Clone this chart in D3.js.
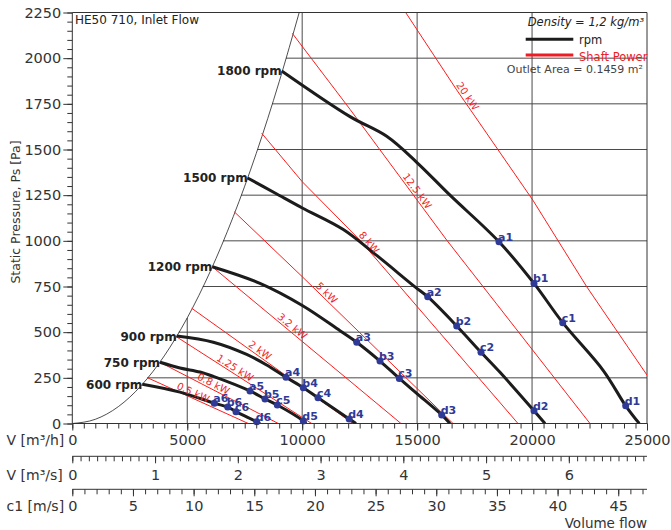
<!DOCTYPE html>
<html><head><meta charset="utf-8">
<script src="https://cdn.jsdelivr.net/npm/d3@7"></script>
<style>body{margin:0;background:#fff} text{font-family:"DejaVu Sans",sans-serif}</style>
</head><body><svg id="c" width="671" height="530"></svg>
<script>
// ---------------- DATA ----------------
const rpmLabels = ["1800 rpm","1500 rpm","1200 rpm","900 rpm","750 rpm","600 rpm"];
const curve1800 = [[9109,1930],[12081,1680],[13677,1572],[14982,1430],[16430,1250],[18561,995],[20084,767],[21333,552],[23099,290],[24073,97],[24665,0]];
const curve1500 = [[7628,1344],[8818,1262],[10005,1180],[11789,1062],[13242,920],[14908,748],[15460,694],[16722,534],[17779,390],[18606,280],[20084,70],[20563,0]];
const curve1200 = [[6090,858],[8165,767],[10005,646],[11645,508],[12372,445],[13385,342],[14225,247],[14982,165],[16069,47],[16430,0]];
const curve900  = [[4541,479],[6134,445],[7586,378],[8457,320],[9296,253],[10049,196],[10688,141],[12045,25],[12341,0]];
const curve750  = [[3815,335],[4685,304],[5555,282],[6134,258],[7730,178],[8383,134],[8918,101],[10049,14],[10166,0]];
const curve600  = [[3045,215],[4685,172],[6177,111],[6760,90],[7121,65],[8022,10],[8165,0]];

const opLabels   = ["a1","b1","c1","d1","a2","b2","c2","d2","a3","b3","c3","d3","a4","b4","c4","d4","a5","b5","c5","d5","a6","b6","c6","d6"];
const opFlow     = [18561,20084,21333,24073,15460,16722,17779,20084,12372,13385,14225,16069,9296,10049,10688,12045,7730,8383,8918,10049,6177,6760,7121,8022];
const opPressure = [995,767,552,97,694,534,390,70,445,342,247,47,253,196,141,25,178,134,101,14,111,90,65,10];

const powerLabels = ["0.5 kW","0.8 kW","1.25 kW","2 kW","3.2 kW","5 kW","8 kW","12.5 kW","20 kW"];
const power05  = [[3263,251],[7656,0]];
const power08  = [[3815,335],[8961,0]];
const power125 = [[4541,474],[10414,0]];
const power2   = [[5194,631],[12211,0]];
const power32  = [[6090,858],[14299,0]];
const power5   = [[7047,1159],[10000,804],[16561,0]];
const power8   = [[8239,1589],[10000,1324],[12509,1004],[19389,0]];
const power125k= [[9570,2136],[12081,1720],[16287,1004],[22521,0]];
const power20  = [[14503,2250],[16722,1826],[20033,1223],[22377,749],[25000,265]];
const powerLabelFlow = [5160,6030,6950,8030,9420,10900,12730,14813,17000];

const boundaryFlow     = [0,1000,2000,3000,4000,5000,6000,7000,8000,9000,9870];
const boundaryPressure = [0,23,92,208,370,578,832,1132,1478,1871,2250];

const flowTicksMajor = [0,5000,10000,15000,20000,25000];
const pressureTicksMajor = [0,250,500,750,1000,1250,1500,1750,2000,2250];
const flowMax = 25000, pressureMax = 2250;
const inletAreaM2 = 0.1466;

// ---------------- CHART ----------------
const svg = d3.select("#c");
const X0=72.3, X1=647, YT=12.5, YB=423.5;
const x = d3.scaleLinear().domain([0,flowMax]).range([X0,X1]);
const y = d3.scaleLinear().domain([0,pressureMax]).range([YB,YT]);

function boundaryFlowAt(P){
  for(let i=0;i<boundaryPressure.length-1;i++){
    const p0=boundaryPressure[i],p1=boundaryPressure[i+1];
    if(P>=p0&&P<=p1){return boundaryFlow[i]+(P-p0)/(p1-p0)*(boundaryFlow[i+1]-boundaryFlow[i]);}
  }
  return boundaryFlow[boundaryFlow.length-1];
}
function boundaryPAt(V){
  if(V>=boundaryFlow[boundaryFlow.length-1]) return pressureMax;
  for(let i=0;i<boundaryFlow.length-1;i++){
    const v0=boundaryFlow[i],v1=boundaryFlow[i+1];
    if(V>=v0&&V<=v1){return boundaryPressure[i]+(V-v0)/(v1-v0)*(boundaryPressure[i+1]-boundaryPressure[i]);}
  }
  return pressureMax;
}

svg.append("defs").append("clipPath").attr("id","pc").append("rect")
  .attr("x",X0).attr("y",YT).attr("width",X1-X0).attr("height",YB-YT);

const grid = svg.append("g").attr("stroke","#4a4a4a").attr("stroke-width",1);
pressureTicksMajor.filter(p=>p>0&&p<pressureMax).forEach(p=>{
  grid.append("line").attr("x1",x(boundaryFlowAt(p))).attr("x2",X1).attr("y1",y(p)).attr("y2",y(p));
});
flowTicksMajor.filter(v=>v>0&&v<flowMax).forEach(v=>{
  grid.append("line").attr("x1",x(v)).attr("x2",x(v)).attr("y1",y(Math.min(pressureMax,boundaryPAt(v)))).attr("y2",YB);
});

// frame
svg.append("path").attr("d",`M${X0},${YB}V${YT}H${X1}V${YB}H${X0}`)
  .attr("stroke","#333").attr("stroke-width",1).attr("fill","none");

const plot = svg.append("g").attr("clip-path","url(#pc)");

// boundary curve
plot.append("path")
  .attr("d", d3.line().x((d,i)=>x(boundaryFlow[i])).y((d,i)=>y(boundaryPressure[i])).curve(d3.curveMonotoneX)(boundaryFlow))
  .attr("fill","none").attr("stroke","#222").attr("stroke-width",0.8);

// power lines
const powerLines=[power05,power08,power125,power2,power32,power5,power8,power125k,power20];
powerLines.forEach((pl,i)=>{
  const pts = pl.map(d=>[x(d[0]),y(d[1])]);
  plot.append("path").attr("d",d3.line()(pts)).attr("fill","none").attr("stroke","#ff1c1c").attr("stroke-width",1);
  const lx = x(powerLabelFlow[i]);
  let k=0; while(k<pts.length-2 && pts[k+1][0]<lx) k++;
  const [ax,ay]=pts[k],[bx,by]=pts[k+1];
  const t=(lx-ax)/(bx-ax), ly=ay+t*(by-ay);
  const ang=Math.atan2(by-ay,bx-ax)*180/Math.PI;
  svg.append("text").attr("transform",`translate(${lx},${ly}) rotate(${ang})`)
    .attr("text-anchor","middle").attr("dy",-2).attr("font-size",10).attr("fill","#ee1c24").text(powerLabels[i]);
});

// rpm curves
const rpmCurves=[curve1800,curve1500,curve1200,curve900,curve750,curve600];
const ln = d3.line().x(d=>x(d[0])).y(d=>y(d[1])).curve(d3.curveCatmullRom.alpha(0.5));
rpmCurves.forEach((c,i)=>{
  plot.append("path").attr("d",ln(c)).attr("fill","none").attr("stroke","#1c1c1c").attr("stroke-width",3);
  svg.append("text").attr("x",x(c[0][0])).attr("y",y(c[0][1])+4.5).attr("text-anchor","end")
    .attr("font-size",12).attr("font-weight","bold").attr("fill","#222").text(rpmLabels[i]);
});

// operating points
opLabels.forEach((lab,i)=>{
  const px=x(opFlow[i]), py=y(opPressure[i]);
  svg.append("circle").attr("cx",px).attr("cy",py).attr("r",3.5).attr("fill","#2e3a96");
  svg.append("text").attr("x",px-1).attr("y",py-1).attr("font-size",11).attr("font-weight","bold")
    .attr("fill","#2e3a96").text(lab);
});

// y axis
const yMinor = d3.range(0,pressureMax+1,50);
const yAx = svg.append("g").attr("transform",`translate(${X0},0)`)
  .call(d3.axisLeft(y).tickValues(yMinor).tickSize(5).tickFormat(""));
yAx.select(".domain").remove();
const yAx2 = svg.append("g").attr("transform",`translate(${X0},0)`)
  .call(d3.axisLeft(y).tickValues(pressureTicksMajor).tickSize(9).tickPadding(2).tickFormat(d3.format("d")));
yAx2.select(".domain").remove();
svg.selectAll(".tick line").attr("stroke","#333");
yAx2.selectAll("text").attr("font-size",14.5).attr("fill","#333").attr("font-family","DejaVu Sans");

svg.append("text").attr("transform","translate(20,212) rotate(-90)").attr("text-anchor","middle")
  .attr("font-size",12.5).attr("fill","#333").text("Static Pressure, Ps [Pa]");

// x axis (m3/h)
const xA = svg.append("g").attr("transform",`translate(0,${YB})`)
  .call(d3.axisBottom(x).tickValues(d3.range(0,flowMax+1,500)).tickSize(5).tickFormat(""));
xA.select(".domain").remove();
const xA2 = svg.append("g").attr("transform",`translate(0,${YB})`)
  .call(d3.axisBottom(x).tickValues(flowTicksMajor).tickSize(7).tickFormat(d3.format("d")));
xA2.select(".domain").remove();
xA2.selectAll("text").attr("font-size",14.5).attr("fill","#333").attr("font-family","DejaVu Sans").attr("y",21.5).attr("dy",0);
xA.selectAll("line").attr("stroke","#333");
xA2.selectAll("line").attr("stroke","#333");

// second axis m3/s
const qMax = flowMax/3600;
const x2 = d3.scaleLinear().domain([0,qMax]).range([X0,X1]);
const ax2y = 456.3;
svg.append("line").attr("x1",X0).attr("x2",X1).attr("y1",ax2y).attr("y2",ax2y).attr("stroke","#333");
const g2a = svg.append("g").attr("transform",`translate(0,${ax2y})`)
  .call(d3.axisBottom(x2).tickValues(d3.range(0,70).map(d=>d/10)).tickSize(5).tickFormat(""));
g2a.select(".domain").remove();
const g2b = svg.append("g").attr("transform",`translate(0,${ax2y})`)
  .call(d3.axisBottom(x2).tickValues(d3.range(0,7)).tickSize(7).tickFormat(d3.format("d")));
g2b.select(".domain").remove();
g2b.selectAll("text").attr("font-size",14.5).attr("fill","#333").attr("font-family","DejaVu Sans").attr("y",23.5).attr("dy",0);
g2a.selectAll("line").attr("stroke","#333"); g2b.selectAll("line").attr("stroke","#333");

// third axis c1 m/s
const cMax = qMax/inletAreaM2;
const x3 = d3.scaleLinear().domain([0,cMax]).range([X0,X1]);
const ax3y = 489.3;
svg.append("line").attr("x1",X0).attr("x2",X1).attr("y1",ax3y).attr("y2",ax3y).attr("stroke","#333");
const g3a = svg.append("g").attr("transform",`translate(0,${ax3y})`)
  .call(d3.axisBottom(x3).tickValues(d3.range(0,Math.floor(cMax)+1)).tickSize(5).tickFormat(""));
g3a.select(".domain").remove();
const g3b = svg.append("g").attr("transform",`translate(0,${ax3y})`)
  .call(d3.axisBottom(x3).tickValues(d3.range(0,46,5)).tickSize(7).tickFormat(d3.format("d")));
g3b.select(".domain").remove();
g3b.selectAll("text").attr("font-size",14.5).attr("fill","#333").attr("font-family","DejaVu Sans").attr("y",21.5).attr("dy",0);
g3a.selectAll("line").attr("stroke","#333"); g3b.selectAll("line").attr("stroke","#333");

// axis names
const an = [["V [m³/h]",445],["V [m³/s]",479.5],["c1 [m/s]",511]];
an.forEach(a=>svg.append("text").attr("x",6.5).attr("y",a[1]).attr("font-size",14).attr("fill","#333").text(a[0]));
svg.append("text").attr("x",647).attr("y",527.5).attr("text-anchor","end").attr("font-size",13.5).attr("fill","#333").text("Volume flow");

// title & legend
svg.append("text").attr("x",75).attr("y",24).attr("font-size",12).attr("fill","#222").text("HE50 710, Inlet Flow");
svg.append("text").attr("x",644).attr("y",26).attr("text-anchor","end").attr("font-size",11.5).attr("font-style","italic").attr("fill","#222").text("Density = 1,2 kg/m³");
svg.append("line").attr("x1",525.7).attr("x2",573.3).attr("y1",39.3).attr("y2",39.3).attr("stroke","#1c1c1c").attr("stroke-width",3);
svg.append("text").attr("x",579).attr("y",44).attr("font-size",11.5).attr("fill","#222").text("rpm");
svg.append("line").attr("x1",525.7).attr("x2",573.3).attr("y1",55).attr("y2",55).attr("stroke","#ee1c24").attr("stroke-width",3);
svg.append("text").attr("x",579).attr("y",61).attr("font-size",11.5).attr("fill","#ee1c24").text("Shaft Power");
svg.append("text").attr("x",643).attr("y",73).attr("text-anchor","end").attr("font-size",11).attr("fill","#444").text("Outlet Area = 0.1459 m²");
</script></body></html>
